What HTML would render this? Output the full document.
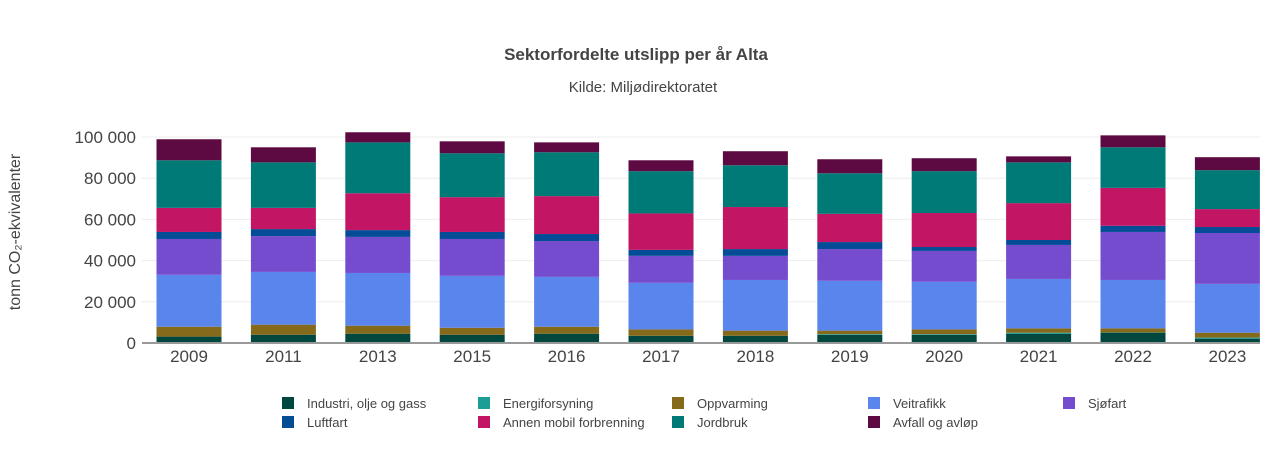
<!DOCTYPE html>
<html><head><meta charset="utf-8"><style>
body{margin:0;background:#fff;font-family:"Liberation Sans",sans-serif;}
svg text{font-family:"Liberation Sans",sans-serif;}
</style></head><body>
<svg id="chart" width="1280" height="450" xmlns="http://www.w3.org/2000/svg">
<text x="636" y="60" text-anchor="middle" font-size="17" font-weight="bold" fill="#444">Sektorfordelte utslipp per år Alta</text>
<text x="643" y="92" text-anchor="middle" font-size="15" fill="#444">Kilde: Miljødirektoratet</text>
<text transform="translate(20,232) rotate(-90)" text-anchor="middle" font-size="16" fill="#444">tonn CO₂-ekvivalenter</text>
<g id="grid"></g><g id="bars"></g><g id="axes"></g><g id="legend"></g>
</svg>
<script>
const categories=["2009","2011","2013","2015","2016","2017","2018","2019","2020","2021","2022","2023"];
const seriesNames=["Industri, olje og gass","Energiforsyning","Oppvarming","Veitrafikk","Sjøfart","Luftfart","Annen mobil forbrenning","Jordbruk","Avfall og avløp"];
const industri=[3100,4000,4500,4000,4500,3500,3500,4000,4000,4500,5000,2100];
const energi=[0,0,0,0,0,0,0,300,300,500,100,500];
const oppvarming=[4800,4900,3900,3400,3400,3100,2500,1700,2300,2100,2000,2400];
const veitrafikk=[25200,25600,25600,25200,24200,22600,24600,24200,23100,24000,23500,23700];
const sjofart=[17400,17400,17500,17900,17400,13100,11700,15400,15000,16500,23300,24700];
const luftfart=[3400,3400,3300,3400,3400,2900,3300,3400,1900,2400,3000,2900];
const annen=[11700,10300,17900,16900,18400,17700,20400,13700,16500,17900,18400,8700];
const jordbruk=[23100,22100,24700,21300,21300,20500,20300,19700,20300,19800,19700,18900];
const avfall=[10200,7300,4900,5800,4800,5300,6800,6800,6300,2900,5800,6300];
const yTicks=[0,20000,40000,60000,80000,100000];
const tickLabels=["0","20 000","40 000","60 000","80 000","100 000"];
const series=[industri,energi,oppvarming,veitrafikk,sjofart,luftfart,annen,jordbruk,avfall];
const colors=["#00483f","#1a9e96","#866a1c","#5a85ec","#764cce","#044d96","#c21564","#007a76","#5e0a42"];
const NS="http://www.w3.org/2000/svg";
const x0=189,step=94.4,bw=65;
function xPos(i){return x0+i*step;}
function yPos(v){return 343-v*206/100000;}
function mk(tag,attrs,parent){const e=document.createElementNS(NS,tag);for(const k in attrs)e.setAttribute(k,attrs[k]);parent.appendChild(e);return e;}
const grid=document.getElementById('grid'),bars=document.getElementById('bars'),axes=document.getElementById('axes'),legend=document.getElementById('legend');
yTicks.forEach((t,i)=>{
  if(t>0){const l=mk('line',{x1:142,x2:1260,y1:yPos(t),y2:yPos(t),stroke:'#eee','stroke-width':1},grid);
  
  }
  const tx=mk('text',{x:136,y:yPos(t)+6,'text-anchor':'end','font-size':17,fill:'#444'},axes);
  tx.textContent=tickLabels[i];
  
  
});
categories.forEach((c,i)=>{
  let cum=0;
  series.forEach((s,k)=>{
    const v=s[i];if(v<=0){return;}
    const r=mk('rect',{x:xPos(i)-bw/2,y:yPos(cum+v),width:bw,height:yPos(cum)-yPos(cum+v),fill:colors[k]},bars);
    
    
    cum+=v;
  });
  const tx=mk('text',{x:xPos(i),y:362,'text-anchor':'middle','font-size':17,fill:'#444'},axes);
  tx.textContent=c;
  
  
});
const ax=mk('line',{x1:142,x2:1260,y1:343,y2:343,stroke:'#999','stroke-width':2},axes);


const legX=[282,478,672,868,1063];
seriesNames.forEach((n,k)=>{
  const col=k%5,row=Math.floor(k/5);
  const g=mk('g',{},legend);
  
  
  mk('rect',{x:legX[col],y:397+row*19,width:12,height:12,fill:colors[k]},g);
  const t=mk('text',{x:legX[col]+25,y:408+row*19,'font-size':13,fill:'#444'},g);
  t.textContent=n;
});
</script>
</body></html>
